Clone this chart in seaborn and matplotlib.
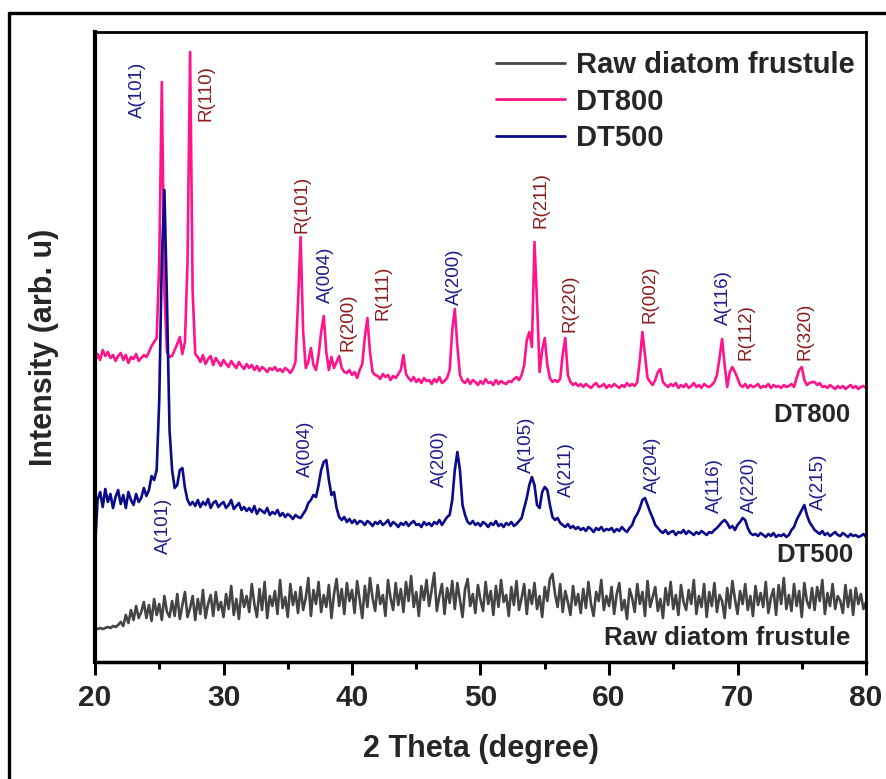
import numpy as np
import pandas as pd
import matplotlib
matplotlib.use("Agg")
import matplotlib.pyplot as plt
from matplotlib.lines import Line2D
from matplotlib.ticker import MultipleLocator
import seaborn as sns

# ---- XRD data (2 theta step 0.2 degree, intensities in arbitrary units) ----
two_theta = np.round(np.arange(20.0, 80.001, 0.2), 1)

raw_counts = [
    33, 33, 34, 33, 34, 35, 34, 36, 35, 37,
    40, 36, 47, 39, 52, 42, 56, 44, 50, 60,
    44, 57, 41, 63, 47, 58, 42, 66, 50, 45,
    61, 46, 68, 43, 57, 70, 45, 54, 66, 42,
    63, 48, 72, 44, 58, 67, 46, 70, 52, 60,
    45, 68, 53, 76, 47, 63, 43, 72, 55, 66,
    50, 78, 58, 45, 73, 52, 80, 44, 66, 56,
    71, 48, 82, 54, 65, 45, 78, 57, 70, 49,
    75, 52, 64, 84, 46, 72, 58, 80, 50, 67,
    55, 77, 44, 68, 83, 56, 73, 48, 79, 61,
    72, 49, 81, 62, 44, 76, 55, 84, 64, 51,
    77, 58, 67, 46, 82, 64, 52, 79, 57, 73,
    50, 80, 61, 86, 55, 70, 46, 76, 62, 82,
    56, 72, 89, 51, 66, 78, 48, 74, 59, 81,
    53, 79, 62, 45, 73, 83, 56, 68, 49, 77,
    62, 51, 80, 58, 71, 47, 76, 55, 82, 60,
    67, 46, 75, 57, 81, 52, 64, 78, 48, 72,
    58, 79, 53, 66, 45, 75, 61, 83, 88, 68,
    55, 78, 50, 71, 60, 47, 76, 57, 68, 49,
    73, 54, 80, 58, 46, 70, 61, 82, 52, 66,
    56, 75, 48, 68, 79, 52, 62, 43, 73, 64,
    50, 78, 58, 70, 46, 81, 55, 65, 75, 51,
    63, 44, 74, 57, 80, 53, 67, 47, 77, 60,
    52, 72, 58, 82, 48, 66, 55, 78, 45, 70,
    56, 79, 50, 67, 61, 44, 74, 54, 81, 63,
    48, 71, 58, 78, 52, 66, 46, 76, 57, 69,
    55, 80, 49, 64, 73, 47, 77, 58, 84, 53,
    67, 51, 78, 56, 71, 45, 79, 61, 54, 74,
    52, 75, 61, 82, 48, 69, 56, 78, 53, 66,
    61, 49, 77, 55, 72, 47, 74, 58, 68, 53,
    60,
]

dt500_counts = [
    4, 52, 60, 45, 63, 50, 58, 44, 55, 62,
    48, 57, 44, 60, 52, 47, 58, 50, 54, 64,
    56, 62, 76, 72, 82, 152, 292, 362, 252, 122,
    82, 64, 67, 82, 84, 64, 52, 47, 50, 46,
    52, 45, 50, 47, 53, 44, 49, 51, 45, 48,
    50, 44, 47, 52, 43, 46, 49, 42, 45, 41,
    44, 40, 46, 38, 43, 41, 39, 44, 37, 40,
    38, 42, 36, 39, 35, 38, 36, 33, 37, 35,
    34, 38, 42, 49, 52, 57, 55, 67, 82, 90,
    92, 72, 57, 60, 44, 35, 32, 35, 30, 33,
    29, 32, 28, 31, 30, 27, 31, 29, 26, 30,
    28, 31, 27, 29, 32, 26, 30, 28, 25, 29,
    27, 30, 26, 29, 31, 27, 28, 25, 30, 27,
    29, 26, 30, 28, 32, 27, 31, 35, 37, 52,
    82, 100, 82, 47, 37, 30, 28, 31, 27, 29,
    26, 30, 28, 25, 29, 27, 31, 26, 28, 25,
    29, 27, 30, 26, 28, 31, 34, 44, 54, 67,
    75, 67, 47, 44, 60, 65, 62, 47, 35, 32,
    34, 29, 27, 25, 28, 24, 26, 23, 25, 22,
    24, 21, 25, 23, 20, 24, 22, 25, 21, 23,
    22, 24, 20, 23, 21, 25, 22, 20, 24, 27,
    34, 38, 44, 52, 54, 47, 40, 34, 27, 24,
    21, 19, 22, 18, 20, 21, 17, 20, 19, 22,
    18, 21, 19, 17, 20, 18, 21, 19, 17, 20,
    19, 22, 24, 27, 30, 32, 29, 24, 26, 22,
    27, 30, 34, 32, 24, 19, 17, 18, 16, 19,
    17, 15, 18, 16, 19, 15, 17, 16, 18, 15,
    17, 22, 25, 32, 37, 42, 47, 37, 30, 26,
    22, 20, 18, 21, 17, 19, 16, 18, 20, 17,
    16, 19, 17, 15, 18, 16, 17, 15, 16, 18,
    15,
]

dt800_counts = [
    50, 58, 52, 62, 56, 60, 54, 57, 51, 56,
    59, 52, 57, 49, 55, 53, 58, 51, 54, 57,
    55, 60, 66, 70, 74, 150, 330, 120, 60, 55,
    56, 62, 68, 75, 58, 70, 150, 360, 120, 58,
    55, 50, 57, 48, 53, 56, 47, 54, 50, 46,
    52, 48, 45, 51, 47, 44, 50, 46, 43, 48,
    44, 47, 42, 46, 41, 45, 43, 40, 44, 42,
    45, 41, 43, 40, 44, 42, 39, 43, 50, 110,
    175, 80, 44, 50, 64, 47, 42, 57, 80, 96,
    60, 42, 55, 44, 50, 56, 44, 40, 39, 42,
    37, 40, 34, 42, 48, 75, 94, 60, 40, 37,
    36, 33, 38, 35, 37, 32, 36, 34, 38, 42,
    57, 38, 34, 31, 35, 30, 33, 29, 34, 31,
    32, 28, 33, 30, 35, 29, 31, 34, 42, 82,
    103, 66, 37, 31, 29, 33, 28, 32, 30, 27,
    31, 28, 33, 29, 30, 27, 32, 28, 31, 29,
    28, 31, 30, 33, 35, 32, 37, 47, 72, 80,
    65, 170, 110, 40, 62, 74, 47, 34, 30, 32,
    30, 33, 58, 74, 37, 30, 27, 29, 26, 28,
    25, 28, 26, 24, 27, 29, 25, 26, 28, 24,
    27, 25, 28, 26, 24, 27, 25, 29, 26, 28,
    26, 30, 52, 80, 57, 34, 30, 27, 32, 40,
    43, 30, 27, 25, 28, 26, 29, 24, 27, 25,
    28, 24, 26, 29, 25, 27, 24, 28, 26, 25,
    27, 30, 37, 54, 73, 47, 25, 40, 45, 40,
    34, 27, 25, 28, 24, 27, 25, 26, 28, 24,
    26, 25, 28, 24, 27, 25, 26, 24, 27, 25,
    26, 28, 25, 34, 42, 45, 32, 27, 29, 30,
    30, 27, 29, 25, 26, 24, 27, 25, 23, 26,
    24, 26, 23, 25, 27, 24, 26, 23, 25, 26,
    24,
]

# Reflection labels (anatase A / rutile R)
dt800_hkl = ["A(101)", "R(110)", "R(101)", "A(004)", "R(200)", "R(111)", "A(200)",
             "R(211)", "R(220)", "R(002)", "A(116)", "R(112)", "R(320)"]
dt500_hkl = ["A(101)", "A(004)", "A(200)", "A(105)", "A(211)", "A(204)",
             "A(116)", "A(220)", "A(215)"]

# ---- layout: vertical stacking and label placement ----
offsets = {"Raw diatom frustule": 0, "DT500": 110, "DT800": 250}
colors = {"Raw diatom frustule": "#444444", "DT800": "#FF148C", "DT500": "#0A0A8A"}
anatase_color = "#1C1C8C"
rutile_color = "#8B1E1E"

dt800_label_pos = [(23.3, 544), (28.6, 541), (36.1, 429), (37.9, 359), (39.7, 311),
                   (42.4, 342), (48.0, 357), (54.7, 434), (57.0, 330), (63.2, 339),
                   (68.9, 337), (70.7, 302), (75.25, 302)]
dt500_label_pos = [(25.3, 108), (36.4, 185), (46.8, 175), (53.6, 189), (56.7, 165),
                   (63.4, 169), (68.2, 149), (70.9, 149), (76.3, 152)]

frames = []
for name, counts in [("Raw diatom frustule", raw_counts), ("DT800", dt800_counts),
                     ("DT500", dt500_counts)]:
    frames.append(pd.DataFrame({"two_theta": two_theta,
                                "intensity": np.asarray(counts, float) + offsets[name],
                                "sample": name}))
df = pd.concat(frames, ignore_index=True)

sns.set_theme(style="ticks")
plt.rcParams["font.family"] = ["Liberation Sans", "DejaVu Sans"]

fig = plt.figure(figsize=(8.87, 7.79), dpi=100)
ax = fig.add_axes([95 / 887, 1 - 662 / 779, 771 / 887, 630 / 779])

widths = {"Raw diatom frustule": 1.9, "DT800": 1.9, "DT500": 1.9}
for name in ["Raw diatom frustule", "DT800", "DT500"]:
    sns.lineplot(data=df[df["sample"] == name], x="two_theta", y="intensity",
                 ax=ax, color=colors[name], linewidth=widths[name], label=name,
                 estimator=None, sort=False)

ax.set_xlim(20, 80)
ax.set_ylim(0, 630)
ax.set_yticks([])
ax.xaxis.set_major_locator(MultipleLocator(10))
ax.xaxis.set_minor_locator(MultipleLocator(5))
ax.tick_params(axis="x", which="major", length=9.5, width=2.2, direction="out",
               labelsize=21.5, pad=6, color="black")
ax.tick_params(axis="x", which="minor", length=5, width=2.2, direction="out",
               color="black")
for lbl in ax.get_xticklabels():
    lbl.set_fontweight("bold")

for side, lw in [("left", 3.0), ("bottom", 2.5), ("top", 2.0), ("right", 2.0)]:
    ax.spines[side].set_visible(True)
    ax.spines[side].set_linewidth(lw)
    ax.spines[side].set_color("black")

ax.set_xlabel("2 Theta (degree)", fontsize=22, fontweight="bold", labelpad=16)
ax.set_ylabel("Intensity (arb. u)", fontsize=22, fontweight="bold", labelpad=26)

# hkl labels
for text, (x, y) in zip(dt800_hkl, dt800_label_pos):
    ax.text(x, y, text, rotation=90, ha="center", va="bottom", fontsize=13.5,
            color=anatase_color if text.startswith("A") else rutile_color)
for text, (x, y) in zip(dt500_hkl, dt500_label_pos):
    ax.text(x, y, text, rotation=90, ha="center", va="bottom", fontsize=13.5,
            color=anatase_color)

# sample names beside each pattern
ax.text(78.75, 247, "DT800", ha="right", va="center", fontsize=18.5, fontweight="bold")
ax.text(79.0, 107, "DT500", ha="right", va="center", fontsize=18.5, fontweight="bold")
ax.text(78.75, 24, "Raw diatom frustule", ha="right", va="center", fontsize=18.5,
        fontweight="bold")

leg = ax.legend(loc="upper right", bbox_to_anchor=(0.986, 0.97), frameon=False,
                fontsize=21, handlelength=2.35, handletextpad=0.4,
                labelspacing=0.3, borderpad=0, borderaxespad=0)
for t in leg.get_texts():
    t.set_fontweight("bold")
for h in leg.legend_handles:
    h.set_linewidth(2.0)

# outer frame of the figure panel
fig.add_artist(Line2D([9 / 887, 9 / 887], [0, 1 - 13 / 779], color="black",
                      linewidth=2.4, transform=fig.transFigure))
fig.add_artist(Line2D([9 / 887, 1], [1 - 13 / 779, 1 - 13 / 779], color="black",
                      linewidth=2.4, transform=fig.transFigure))

fig.savefig("out.png", dpi=100, facecolor="white")
